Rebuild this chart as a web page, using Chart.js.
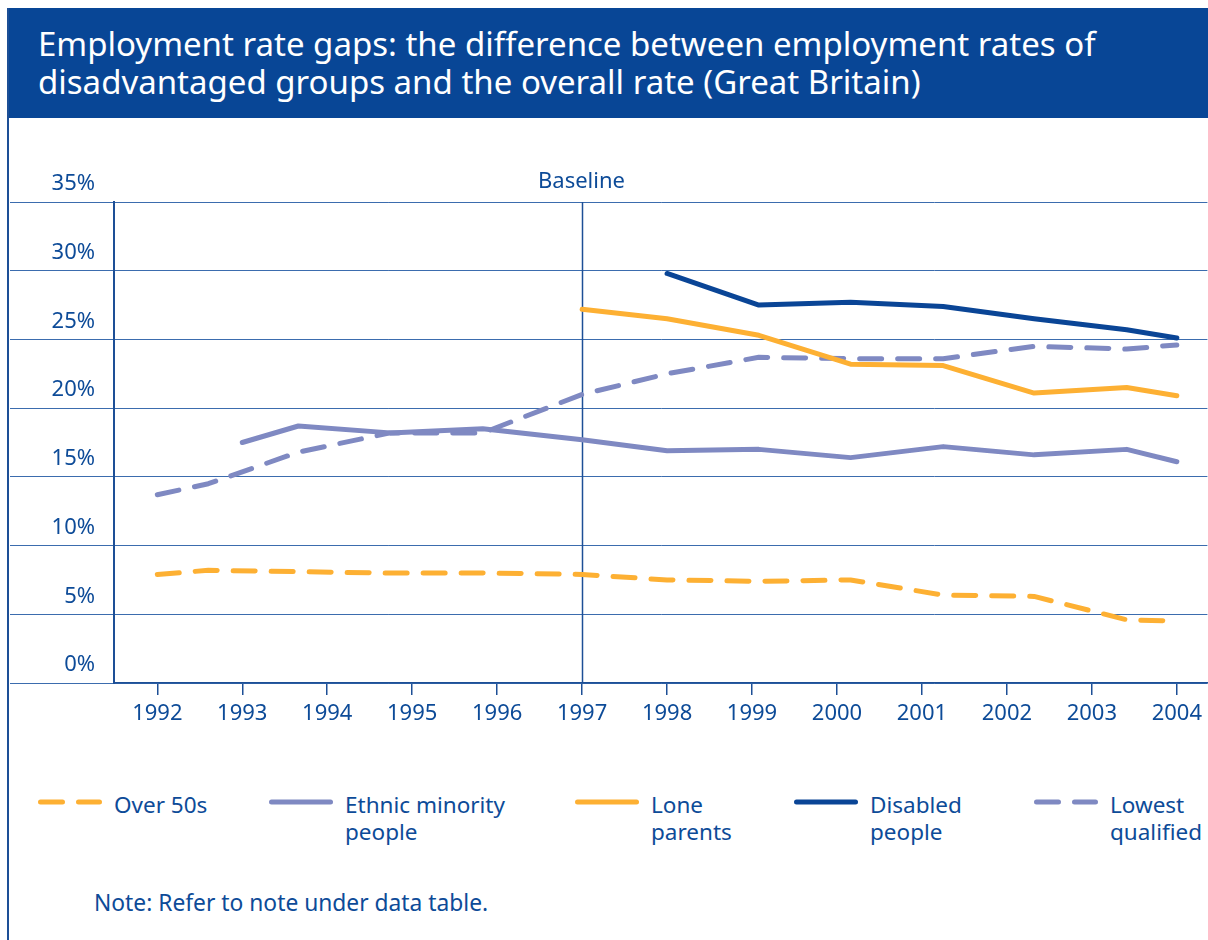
<!DOCTYPE html>
<html>
<head>
<meta charset="utf-8">
<title>Employment rate gaps</title>
<script src="https://cdn.jsdelivr.net/npm/chart.js@4.4.1/dist/chart.umd.min.js"></script>
<style>
  body { margin: 0; background: #fff; font-family: "Noto Sans", sans-serif; color: #0d4b98; }
  #page { position: relative; width: 1208px; height: 940px; overflow: hidden; }
  #frame { position: absolute; left: 7px; top: 8px; width: 2px; height: 932px; background: #1d4f96; }
  #banner {
    position: absolute; left: 7px; top: 8px; width: 1201px; height: 110px;
    background: #084696; color: #fff; font-size: 33px; line-height: 38px;
    box-sizing: border-box; padding: 17px 0 0 31px; white-space: nowrap;
  }
  #chart { position: absolute; left: 0; top: 0; }
  .item { position: absolute; top: 791px; display: flex; align-items: flex-start; }
  .item svg { margin-top: 6px; margin-right: 12px; }
  .item span { font-size: 22.5px; line-height: 27px; }
  #note { position: absolute; left: 94px; top: 889px; font-size: 22.8px; line-height: 27px; }
</style>
</head>
<body>
<div id="page">
  <div id="banner">Employment rate gaps: the difference between employment rates of<br>disadvantaged groups and the overall rate (Great Britain)</div>
  <div id="frame"></div>
  <canvas id="chart" width="1208" height="760"></canvas>
  <div id="legend"></div>
  <div id="note">Note: Refer to note under data table.</div>
</div>
<script>
// survey points (fractional years) and the year ticks on the axis
const periods = [1992.0, 1992.6, 1993.0, 1993.66, 1994.74, 1995.83, 1997.0, 1998.0, 1999.08, 2000.16, 2001.25, 2002.32, 2003.41, 2004.0];
const years = [1992, 1993, 1994, 1995, 1996, 1997, 1998, 1999, 2000, 2001, 2002, 2003, 2004];
const percentTicks = [0, 5, 10, 15, 20, 25, 30, 35];
const baselineYear = 1997;

// gap to the overall employment rate, percentage points
const over50s = [7.9, 8.2, null, 8.1, 8.0, 8.0, 7.9, 7.5, 7.4, 7.5, 6.4, 6.3, 4.6, 4.5];
const ethnicMinority = [null, null, 17.5, 18.7, 18.2, 18.5, 17.7, 16.9, 17.0, 16.4, 17.2, 16.6, 17.0, 16.1];
const loneParents = [null, null, null, null, null, null, 27.2, 26.5, 25.3, 23.2, 23.1, 21.1, 21.5, 20.9];
const disabledPeople = [null, null, null, null, null, null, null, 29.8, 27.5, 27.7, 27.4, 26.5, 25.7, 25.1];
const lowestQualified = [13.7, 14.5, null, 16.8, 18.2, 18.2, 21.0, 22.5, 23.7, 23.6, 23.6, 24.5, 24.3, 24.6];

const ORANGE = '#fdb033';
const LILAC = '#7f89c2';
const NAVY = '#0a4596';
const TEXT = '#0d4b98';
const GRID = '#3b6cae';
const DASH = [22, 16];

const series = [
  { label: ['Over 50s'], values: over50s, color: ORANGE, dash: DASH, left: 38 },
  { label: ['Ethnic minority', 'people'], values: ethnicMinority, color: LILAC, dash: [], left: 269 },
  { label: ['Lone', 'parents'], values: loneParents, color: ORANGE, dash: [], left: 575 },
  { label: ['Disabled', 'people'], values: disabledPeople, color: NAVY, dash: [], left: 794 },
  { label: ['Lowest', 'qualified'], values: lowestQualified, color: LILAC, dash: DASH, left: 1034 }
];

const datasets = series.map(s => ({
  label: s.label.join(' '),
  data: periods.map((p, i) => ({ x: p, y: s.values[i] })),
  borderColor: s.color,
  borderWidth: 5,
  borderDash: s.dash,
  borderCapStyle: 'round',
  borderJoinStyle: 'round',
  pointRadius: 0,
  tension: 0,
  spanGaps: true,
  fill: false
}));

// vertical line and caption at the baseline year
const baselinePlugin = {
  id: 'baseline',
  beforeDatasetsDraw(chart) {
    const { ctx, chartArea, scales } = chart;
    const x = Math.round(scales.x.getPixelForValue(baselineYear)) + 0.5;
    ctx.save();
    ctx.strokeStyle = '#1d4f96';
    ctx.lineWidth = 1.5;
    ctx.beginPath();
    ctx.moveTo(x, chartArea.top);
    ctx.lineTo(x, chartArea.bottom);
    ctx.stroke();
    ctx.fillStyle = TEXT;
    ctx.font = '22px "Noto Sans"';
    ctx.textAlign = 'center';
    ctx.textBaseline = 'alphabetic';
    ctx.fillText('Baseline', x - 1, chartArea.top - 14);
    ctx.restore();
  }
};

new Chart(document.getElementById('chart'), {
  type: 'line',
  data: { datasets },
  plugins: [baselinePlugin],
  options: {
    responsive: false,
    animation: false,
    devicePixelRatio: 1,
    layout: { padding: { left: 10, top: 202, right: 0, bottom: 0 } },
    plugins: { legend: { display: false }, tooltip: { enabled: false } },
    scales: {
      x: {
        type: 'linear',
        min: 1991.49,
        max: 2004.36,
        afterBuildTicks: scale => { scale.ticks = years.map(v => ({ value: v })); },
        afterFit: scale => { scale.height = 77; },
        grid: { drawOnChartArea: false, drawTicks: true, tickLength: 12, color: '#1d4f96', lineWidth: 1.5 },
        border: { color: '#1d4f96', width: 1.5 },
        ticks: {
          autoSkip: false,
          maxRotation: 0,
          padding: 6,
          color: TEXT,
          font: { family: 'Noto Sans', size: 22 },
          callback: v => String(v)
        }
      },
      y: {
        min: 0,
        max: 35,
        afterBuildTicks: scale => { scale.ticks = percentTicks.map(v => ({ value: v })); },
        afterFit: scale => { scale.width = 104; },
        grid: { color: GRID, lineWidth: 1, drawTicks: true, tickLength: 104 },
        border: { color: '#1d4f96', width: 2 },
        ticks: {
          padding: -85,
          labelOffset: -18,
          color: TEXT,
          font: { family: 'Noto Sans', size: 22 },
          callback: v => v + '%'
        }
      }
    }
  }
});

// legend built from the same series list, labels wrap onto two lines
const legend = document.getElementById('legend');
series.forEach(s => {
  const item = document.createElement('div');
  item.className = 'item';
  item.style.left = s.left + 'px';
  const dash = s.dash.length ? ` stroke-dasharray="${s.dash.join(' ')}"` : '';
  item.innerHTML =
    `<svg width="64" height="10"><line x1="2.5" y1="5" x2="61.5" y2="5" stroke="${s.color}" stroke-width="5" stroke-linecap="round"${dash}/></svg>` +
    `<span>${s.label.join('<br>')}</span>`;
  legend.appendChild(item);
});
</script>
</body>
</html>
